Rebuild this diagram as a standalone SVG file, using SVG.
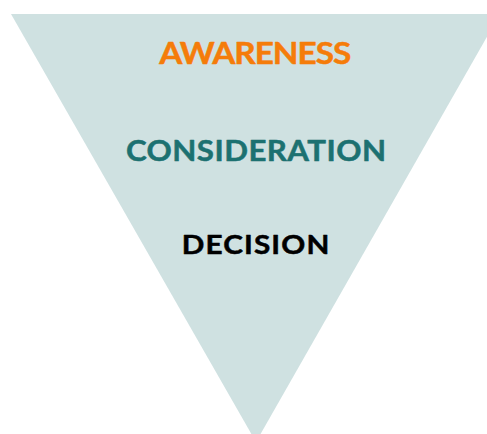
<svg xmlns="http://www.w3.org/2000/svg" width="487" height="434" viewBox="0 0 487 434">
  <style>
    .stage { font-family: Lato, "Liberation Sans", sans-serif; font-weight: 700; text-anchor: middle; stroke-width: 0.5; stroke-linejoin: round; }
  </style>
  <rect width="487" height="434" fill="#ffffff"/>
  <!-- funnel body -->
  <polygon points="11,14 500,14 256,442" fill="#cfe1e1"/>
  <!-- stage labels, slightly widened lettering -->
  <g id="awareness" transform="translate(255.2,64) scale(1.1,1)"><text class="stage" x="0" y="0" font-size="30.3" fill="#f57c0a" stroke="#f57c0a" textLength="174.5" lengthAdjust="spacing">AWARENESS</text></g>
  <g id="consideration" transform="translate(256,161) scale(1.1,1)"><text class="stage" x="0" y="0" font-size="28.4" fill="#1c7171" stroke="#1c7171" textLength="236.4" lengthAdjust="spacing">CONSIDERATION</text></g>
  <g id="decision" transform="translate(255.5,254) scale(1.1,1)"><text class="stage" x="0" y="0" font-size="27" fill="#000000" stroke="#000000" textLength="134.2" lengthAdjust="spacing">DECISION</text></g>
</svg>
